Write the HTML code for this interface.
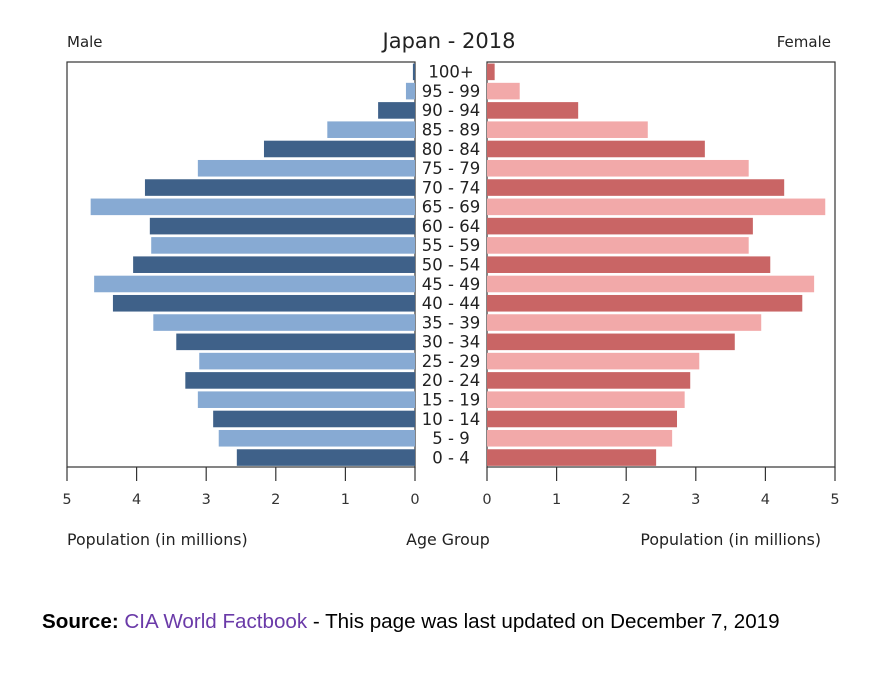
<!DOCTYPE html>
<html><head><meta charset="utf-8"><style>
body{margin:0;background:#fff;width:895px;height:673px;overflow:hidden;font-family:"DejaVu Sans","Liberation Sans",sans-serif;}
</style></head><body>
<svg id="chart" width="895" height="673" style="position:absolute;left:0;top:0">
<text x="67" y="47" font-size="15" fill="#222">Male</text>
<text x="449" y="48" font-size="21" fill="#222" text-anchor="middle">Japan - 2018</text>
<text x="831" y="47" font-size="15" fill="#222" text-anchor="end">Female</text>
<text x="67" y="545" font-size="15.8" fill="#222">Population (in millions)</text>
<text x="448" y="545" font-size="15.8" fill="#222" text-anchor="middle">Age Group</text>
<text x="821" y="545" font-size="15.8" fill="#222" text-anchor="end">Population (in millions)</text>
<text x="42" y="628" font-family="Liberation Sans, sans-serif" font-size="20.6" fill="#000"><tspan font-weight="bold">Source:</tspan> <tspan fill="#6a3aa8">CIA World Factbook</tspan> - This page was last updated on December 7, 2019</text>
</svg>
<script>
const ageGroups=["100+","95 - 99","90 - 94","85 - 89","80 - 84","75 - 79","70 - 74","65 - 69","60 - 64","55 - 59","50 - 54","45 - 49","40 - 44","35 - 39","30 - 34","25 - 29","20 - 24","15 - 19","10 - 14","5 - 9","0 - 4"];
const maleValues=[0.03,0.13,0.53,1.26,2.17,3.12,3.88,4.66,3.81,3.79,4.05,4.61,4.34,3.76,3.43,3.10,3.30,3.12,2.90,2.82,2.56];
const femaleValues=[0.11,0.47,1.31,2.31,3.13,3.76,4.27,4.86,3.82,3.76,4.07,4.70,4.53,3.94,3.56,3.05,2.92,2.84,2.73,2.66,2.43];
const tickValues=[0,1,2,3,4,5];
const NS="http://www.w3.org/2000/svg";
const svg=document.getElementById('chart');
const top0=62,bot=467,L0=415,R0=487,scale=(415-67)/5;
const band=(bot-top0)/ageGroups.length;
const xL=v=>L0-v*scale, xR=v=>R0+v*scale, yB=i=>top0+i*band;
function mk(tag,attrs){const e=document.createElementNS(NS,tag);for(const k in attrs)e.setAttribute(k,attrs[k]);svg.appendChild(e);return e;}
let f=mk('rect',{x:67,y:top0,width:L0-67,height:bot-top0,fill:'none',stroke:'#333','stroke-width':1.2});


f=mk('rect',{x:R0,y:top0,width:835-R0,height:bot-top0,fill:'none',stroke:'#333','stroke-width':1.2});


ageGroups.forEach((g,i)=>{
  const dark=i%2===0, y=yB(i)+band*0.08, h=band*0.86;
  const m=mk('rect',{x:xL(maleValues[i]),y:y,width:L0-xL(maleValues[i]),height:h,fill:dark?'#3f6189':'#87aad3'});
  
  
  const fb=mk('rect',{x:R0,y:y,width:xR(femaleValues[i])-R0,height:h,fill:dark?'#c96565':'#f2a9a9'});
  
  
  const t=mk('text',{x:451,y:yB(i)+band/2+6,'font-size':16.5,fill:'#222','text-anchor':'middle'});
  t.textContent=g;
  
  
});
tickValues.forEach(v=>{
  [[xL(v),'left'],[xR(v),'right']].forEach(([x,s])=>{
    const l=mk('line',{x1:x,x2:x,y1:bot,y2:481,stroke:'#333','stroke-width':1.2});
    
    
    const t=mk('text',{x:x,y:504,'font-size':14.5,fill:'#333','text-anchor':'middle'});
    t.textContent=v;
    
    
  });
});
</script>
</body></html>
